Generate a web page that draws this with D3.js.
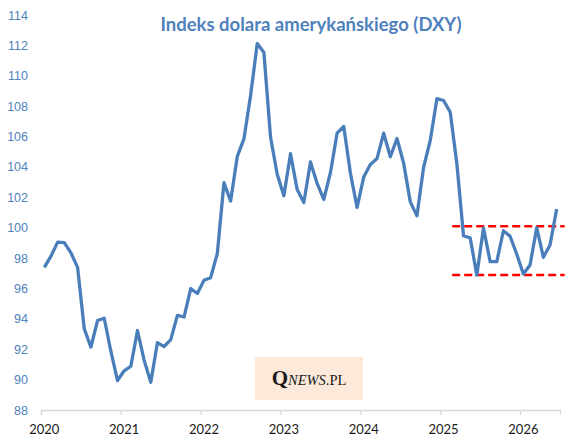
<!DOCTYPE html>
<html>
<head>
<meta charset="utf-8">
<script src="https://cdn.jsdelivr.net/npm/d3@7"></script>
<style>
  body { margin: 0; background: white; }
</style>
</head>
<body>
<div id="chart"></div>
<script>
// Monthly DXY closes, Jan 2020 .. Jun 2026
const startYear = 2020;
const values = [
  97.39, 98.13, 99.05, 99.02, 98.34, 97.39, 93.35, 92.14, 93.89, 94.04, 91.87, 89.94,
  90.58, 90.88, 93.23, 91.28, 89.83, 92.44, 92.17, 92.63, 94.23, 94.12, 95.99, 95.67,
  96.54, 96.71, 98.31, 102.96, 101.75, 104.69, 105.85, 108.70, 112.12, 111.53, 105.95, 103.52,
  102.10, 104.87, 102.51, 101.66, 104.33, 102.91, 101.86, 103.62, 106.22, 106.66, 103.60, 101.33,
  103.33, 104.16, 104.55, 106.22, 104.67, 105.87, 104.25, 101.70, 100.78, 103.98, 105.74, 108.49,
  108.37, 107.61, 104.21, 99.47, 99.33, 96.88, 99.97, 97.77, 97.77, 99.80, 99.44, 98.25,
  96.95, 97.55, 100.00, 98.05, 98.86, 101.23
];
const yearLabels = ["2020", "2021", "2022", "2023", "2024", "2025", "2026"];
const yTicks = [88, 90, 92, 94, 96, 98, 100, 102, 104, 106, 108, 110, 112, 114];

// range channel (red dashed lines), in month index units
const bandLevels = [100.1, 96.88];
const bandFrom = 61.8, bandTo = 78.7;

const title = "Indeks dolara amerykańskiego (DXY)";

let width = 585, height = 447;
let margin = { top: 15, bottom: 37, left: 41, right: 25 };

let svg = d3.select("#chart")
    .append("svg")
    .attr("width", width)
    .attr("height", height)
    .style("background", "white")
    .style("font-family", "Lato, 'Open Sans', sans-serif");

// x: month slots, point sits in the middle of its slot
let x = d3.scaleLinear()
    .domain([0, values.length])
    .range([margin.left, width - margin.right]);

let y = d3.scaleLinear()
    .domain([88, 114])
    .range([height - margin.bottom, margin.top]);

// y axis labels only
let yAxis = svg.append("g")
    .attr("transform", `translate(${margin.left - 10},0)`)
    .call(d3.axisLeft(y).tickValues(yTicks).tickSize(0).tickPadding(3));
yAxis.select(".domain").remove();
yAxis.selectAll("text")
    .attr("fill", "#4f81bd")
    .style("font-size", "12.5px");

// x axis: ticks at year boundaries
let xAxis = svg.append("g")
    .attr("transform", `translate(0,${height - margin.bottom})`)
    .call(d3.axisBottom(x)
        .tickValues(d3.range(0, values.length, 12))
        .tickSize(5)
        .tickFormat(""));
xAxis.select(".domain").attr("stroke", "#d9d9d9").attr("stroke-width", 1.3);
xAxis.selectAll(".tick line").attr("stroke", "#d9d9d9").attr("stroke-width", 1.3);

svg.append("g")
    .selectAll("text")
    .data(yearLabels)
    .enter()
    .append("text")
    .attr("x", (d, i) => x(i * 12 + 0.5))
    .attr("y", height - 13)
    .attr("text-anchor", "middle")
    .attr("fill", "#1a1a1a")
    .style("font-size", "13px")
    .text(d => d);

// watermark box
const wm = svg.append("g");
wm.append("rect")
    .attr("x", 255)
    .attr("y", 357)
    .attr("width", 108)
    .attr("height", 43)
    .attr("fill", "#fce9da");
const wmText = wm.append("text")
    .attr("x", 309)
    .attr("y", 385)
    .attr("text-anchor", "middle")
    .attr("fill", "#1a1a1a")
    .style("font-family", "'Liberation Serif', serif");
wmText.append("tspan").style("font-size", "21px").style("font-weight", "bold").text("Q");
wmText.append("tspan").style("font-size", "14.5px").style("font-style", "italic").text("NEWS");
wmText.append("tspan").style("font-size", "14.5px").text(".PL");

// red dashed range lines
svg.append("g")
    .selectAll("line")
    .data(bandLevels)
    .enter()
    .append("line")
    .attr("x1", x(bandFrom))
    .attr("x2", x(bandTo))
    .attr("y1", d => y(d))
    .attr("y2", d => y(d))
    .attr("stroke", "#ff0000")
    .attr("stroke-width", 2.5)
    .attr("stroke-dasharray", "8,4");

// the index line
let line = d3.line()
    .x((d, i) => x(i + 0.5))
    .y(d => y(d));

svg.append("path")
    .datum(values)
    .attr("d", line)
    .attr("fill", "none")
    .attr("stroke", "#4a7ebb")
    .attr("stroke-width", 3.3)
    .attr("stroke-linejoin", "round");

// title
svg.append("text")
    .attr("x", 311)
    .attr("y", 31)
    .attr("text-anchor", "middle")
    .attr("fill", "#4f81bd")
    .style("font-size", "18.5px")
    .style("font-weight", "bold")
    .text(title);
</script>
</body>
</html>
